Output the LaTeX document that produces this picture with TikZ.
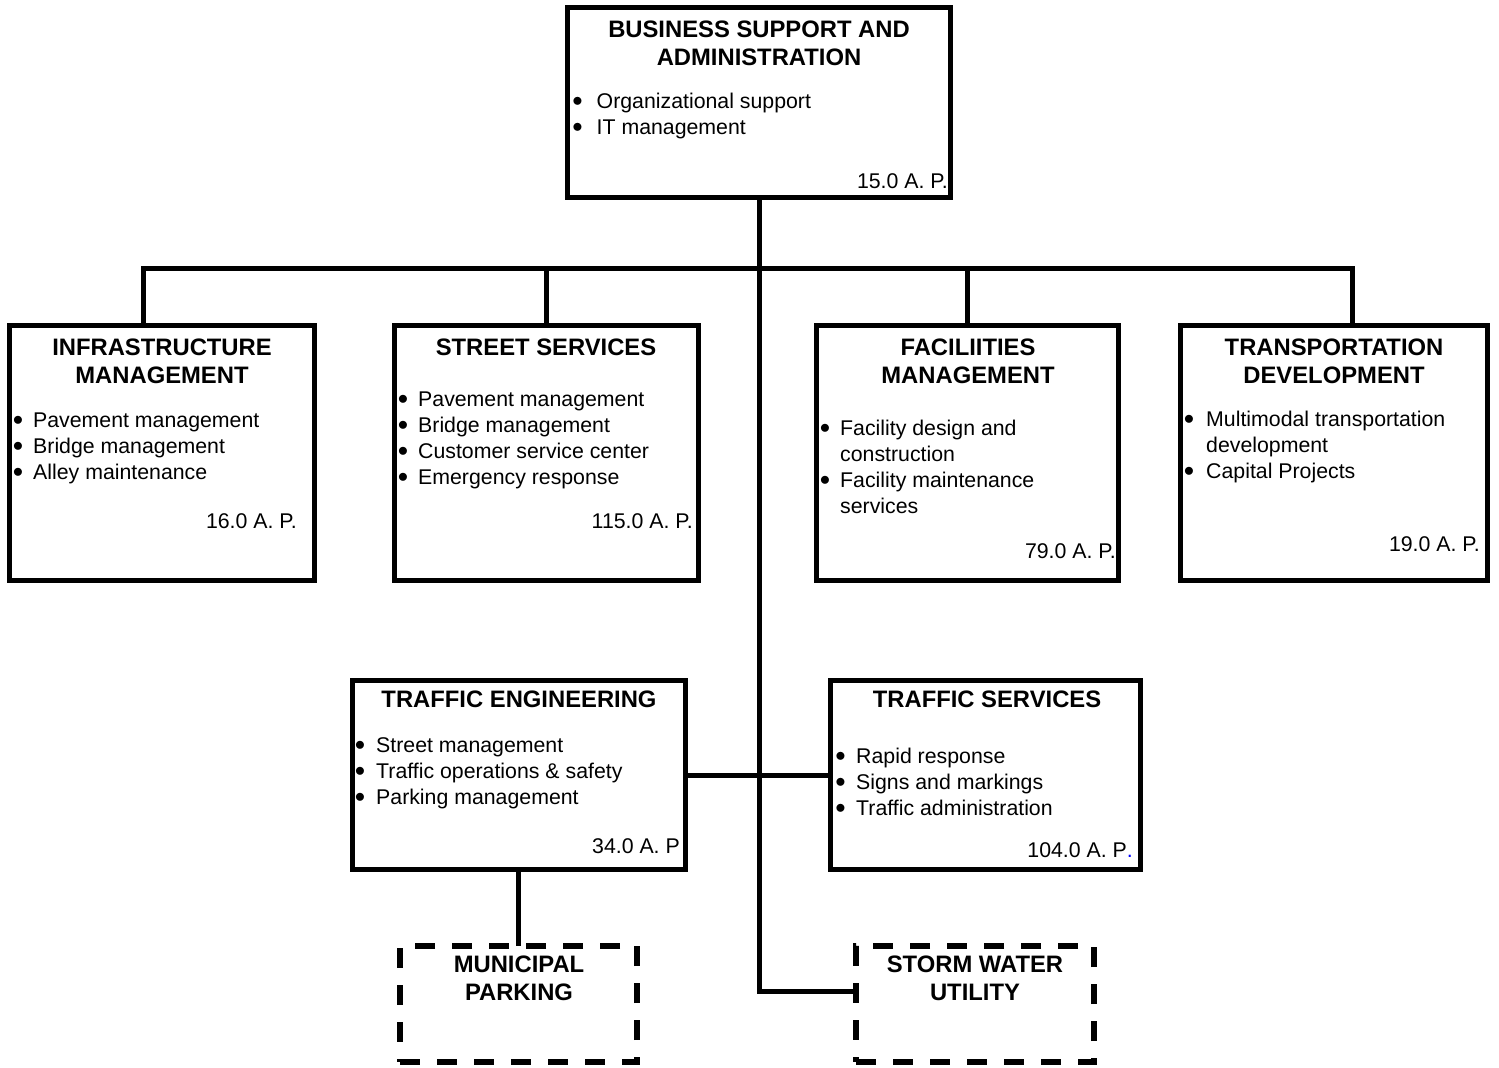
\documentclass[tikz,border=0pt]{standalone}
\usepackage{fontspec}
\setmainfont{Liberation Sans}
\newcommand\orgtitlefont{\fontsize{23.8}{28.5}\selectfont\bfseries}
\newcommand\orgitemfont{\fontsize{21.3}{26}\selectfont}
% bullet hung to the left of the item text, #1 = gap between dot and text
\newcommand\orgbul[1][10pt]{\llap{\raisebox{1.8pt}{$\bullet$}\hspace{#1}}}
\begin{document}
\begin{tikzpicture}[x=1pt,y=-1pt,
  box/.style={draw, line width=5pt, rectangle, inner sep=0pt, outer sep=0pt},
  dbox/.style={box, line width=6pt, dash pattern=on 20pt off 17pt},
  conn/.style={line width=5pt, line join=miter, line cap=butt},
  title/.style={inner sep=0pt, anchor=base, font=\orgtitlefont},
  items/.style={inner sep=0pt, anchor=base west, font=\orgitemfont},
  ap/.style={inner sep=0pt, anchor=base east, font=\orgitemfont}]

\useasboundingbox (0,0) rectangle (1499,1068);
\fill[white] (0,0) rectangle (1499,1068);

% ---- boxes ----
\node[box, minimum width=383pt, minimum height=190pt] (bsa) at (759,102.5) {};
\node[box, minimum width=305pt, minimum height=255pt] (im)  at (162,453) {};
\node[box, minimum width=304pt, minimum height=255pt] (ss)  at (546.5,453) {};
\node[box, minimum width=302pt, minimum height=255pt] (fm)  at (967.5,453) {};
\node[box, minimum width=307pt, minimum height=255pt] (td)  at (1334,453) {};
\node[box, minimum width=333pt, minimum height=189pt] (te)  at (519,775) {};
\node[box, minimum width=310pt, minimum height=189pt] (ts)  at (985.5,775) {};
\node[dbox, minimum width=237pt, minimum height=116pt] (mp) at (518.5,1004) {};
\node[dbox, minimum width=238pt, minimum height=116pt] (sw) at (975,1004) {};

% ---- connectors ----
\coordinate (busL) at (143,268);
\coordinate (busR) at (1352,268);
\coordinate (elbow) at (759,991);
\draw[conn] (bsa.south) -- (elbow) -- (elbow -| sw.west);
\draw[conn] (busL |- im.north) -- (busL) -- (busR) -- (busR |- td.north);
\draw[conn] (ss.north) -- (ss.north |- busL);
\draw[conn] (fm.north) -- (fm.north |- busL);
\draw[conn] (te.east) -- (ts.west);
\draw[conn] (te.south -| 518,0) -- (mp.north -| 518,0);

% ---- Business support and administration ----
\node[title] (bsaT) at (759,37) {\begin{tabular}[t]{@{}c@{}}BUSINESS SUPPORT AND\\ADMINISTRATION\end{tabular}};
\node[items] (bsaL) at (596.5,108) {\begin{tabular}[t]{@{}l@{}}
  \orgbul[14pt]Organizational support\\
  \orgbul[14pt]IT management\end{tabular}};
\node[ap] (bsaP) at (948,188) {15.0 A. P.};

% ---- Infrastructure management ----
\node[title] (imT) at (162,355) {\begin{tabular}[t]{@{}c@{}}INFRASTRUCTURE\\MANAGEMENT\end{tabular}};
\node[items] (imL) at (33,427) {\begin{tabular}[t]{@{}l@{}}
  \orgbul Pavement management\\
  \orgbul Bridge management\\
  \orgbul Alley maintenance\end{tabular}};
\node[ap] (imP) at (297,528) {16.0 A. P.};

% ---- Street services ----
\node[title] (ssT) at (546,355) {STREET SERVICES};
\node[items] (ssL) at (418,406) {\begin{tabular}[t]{@{}l@{}}
  \orgbul Pavement management\\
  \orgbul Bridge management\\
  \orgbul Customer service center\\
  \orgbul Emergency response\end{tabular}};
\node[ap] (ssP) at (693,528) {115.0 A. P.};

% ---- Facilities management ----
\node[title] (fmT) at (968,355) {\begin{tabular}[t]{@{}c@{}}FACILIITIES\\MANAGEMENT\end{tabular}};
\node[items] (fmL) at (840,435) {\begin{tabular}[t]{@{}l@{}}
  \orgbul Facility design and\\
  construction\\
  \orgbul Facility maintenance\\
  services\end{tabular}};
\node[ap] (fmP) at (1116,558) {79.0 A. P.};

% ---- Transportation development ----
\node[title] (tdT) at (1334,355) {\begin{tabular}[t]{@{}c@{}}TRANSPORTATION\\DEVELOPMENT\end{tabular}};
\node[items] (tdL) at (1206,426) {\begin{tabular}[t]{@{}l@{}}
  \orgbul[12pt]Multimodal transportation\\
  development\\
  \orgbul[12pt]Capital Projects\end{tabular}};
\node[ap] (tdP) at (1480,551) {19.0 A. P.};

% ---- Traffic engineering ----
\node[title] (teT) at (519,707) {TRAFFIC ENGINEERING};
\node[items] (teL) at (376,752) {\begin{tabular}[t]{@{}l@{}}
  \orgbul[11pt]Street management\\
  \orgbul[11pt]Traffic operations \& safety\\
  \orgbul[11pt]Parking management\end{tabular}};
\node[ap] (teP) at (680,853) {34.0 A. P};

% ---- Traffic services ----
\node[title] (tsT) at (987,707) {TRAFFIC SERVICES};
\node[items] (tsL) at (856,763) {\begin{tabular}[t]{@{}l@{}}
  \orgbul[10.5pt]Rapid response\\
  \orgbul[10.5pt]Signs and markings\\
  \orgbul[10.5pt]Traffic administration\end{tabular}};
\node[ap] (tsP) at (1133,857) {104.0 A. P\textcolor{blue}{.}};

% ---- dashed units ----
\node[title] (mpT) at (519,972) {\begin{tabular}[t]{@{}c@{}}MUNICIPAL\\PARKING\end{tabular}};
\node[title] (swT) at (975,972) {\begin{tabular}[t]{@{}c@{}}STORM WATER\\UTILITY\end{tabular}};

\end{tikzpicture}
\end{document}
